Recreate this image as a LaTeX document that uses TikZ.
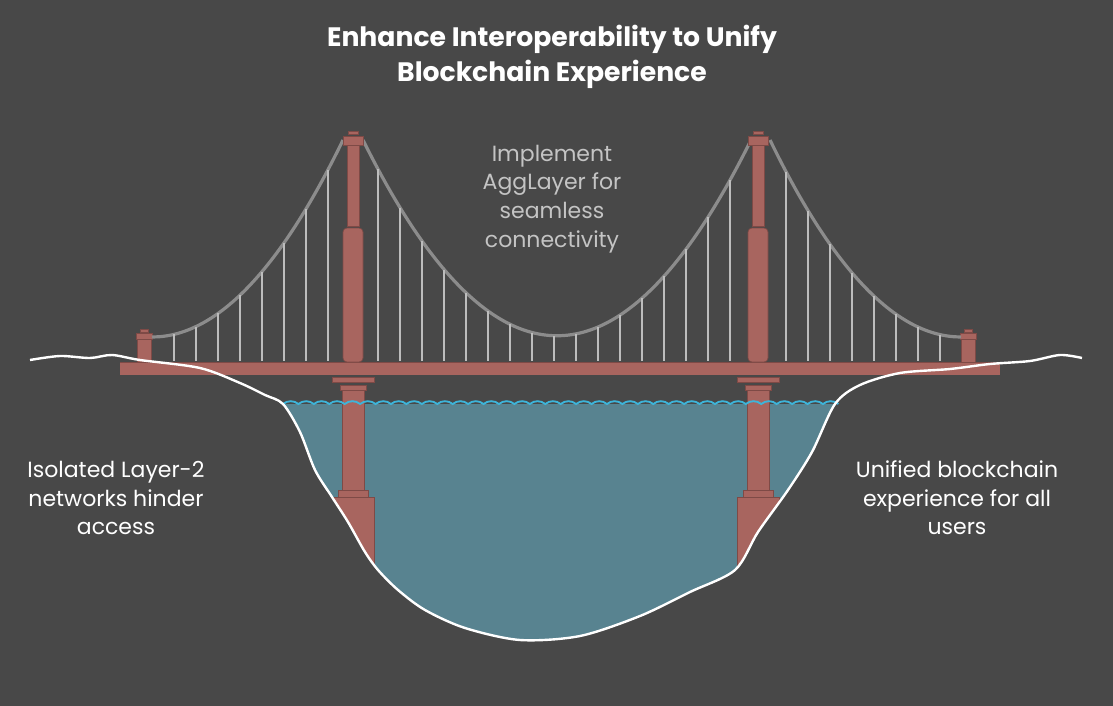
\documentclass[tikz,border=0pt]{standalone}
\usepackage{fontspec}
\setmainfont{Poppins}
\begin{document}
\begin{tikzpicture}[x=0.75pt,y=-0.75pt,
  red/.style={fill=brc,draw=brd,line width=0.5pt},
  hanger/.style={draw=hgc,line width=1.3pt},
  cable/.style={draw=cbc,line width=2.4pt},
  lbl/.style={text=white,font=\fontsize{16.5}{21.5}\selectfont,align=center}]
\definecolor{bg}{HTML}{484848}
\definecolor{brc}{HTML}{A8655F}
\definecolor{brd}{HTML}{7E4A46}
\definecolor{wat}{HTML}{588390}
\definecolor{wav}{HTML}{3DB5DA}
\definecolor{hgc}{HTML}{BDBDBD}
\definecolor{cbc}{HTML}{8C8C8C}
\definecolor{txg}{HTML}{C4C4C4}
\fill[bg] (0,0) rectangle (1113,706);
\useasboundingbox (0,0) rectangle (1113,706);
% water
\def\gorge{(283,404) (300,432) (315,470) (332,497) (348,522) (365,552) (378,570) (398,590) (425,610) (465,628) (520,640) (580,636) (640,616) (690,592) (735,570) (758,532) (788,490) (812,452) (835,404)}
\fill[wat] plot[smooth] coordinates {\gorge} -- cycle;
% deck
\fill[brc] (120,362) rectangle (1000,375);
\draw[brd,line width=0.6pt] (120,362) -- (1000,362);
% end posts
\foreach \x in {144,968}{
  \draw[red] (\x-7,339) rectangle (\x+7,362);
  \draw[red] (\x-8,333) rectangle (\x+8,339);
  \draw[red] (\x-4,329) rectangle (\x+4,332);
}
% cables
\draw[cable] (152,337) .. controls (215.7,337) and (279.3,271.3) .. (343,140);
\draw[cable] (363,140) .. controls (492.3,401) and (621.7,401) .. (751,140);
\draw[cable] (770,140) .. controls (833.7,271.3) and (897.3,337) .. (961,337);
% hangers
\foreach \x in {174,196,...,328}{
  \pgfmathsetmacro\yy{337-197*((\x-152)/191)^2}
  \draw[hanger] (\x,\yy) -- (\x,361);}
\foreach \x in {378,400,...,740}{
  \pgfmathsetmacro\yy{336-196*((\x-557)/194)^2}
  \draw[hanger] (\x,\yy) -- (\x,361);}
\foreach \x in {786,808,...,950}{
  \pgfmathsetmacro\yy{337-197*((\x-961)/191)^2}
  \draw[hanger] (\x,\yy) -- (\x,361);}
% towers
\foreach \x in {353,758}{
  \draw[red] (\x-6,145) rectangle (\x+6,226);
  \draw[red,rounded corners=3pt] (\x-10,228) rectangle (\x+10,362);
  \draw[red] (\x-10,136) rectangle (\x+10,145);
  \draw[red] (\x-5,131) rectangle (\x+5,134);
  \draw[red] (\x-21,377) rectangle (\x+21,382);
  \draw[red] (\x-13,385) rectangle (\x+13,390);
}
\begin{scope}
\clip plot[smooth] coordinates {\gorge} -- (835,390) -- (283,390) -- cycle;
\foreach \x in {353,758}{
  \draw[red] (\x-11,390) rectangle (\x+11,490);
  \draw[red] (\x-15,490) rectangle (\x+15,497);
  \draw[red] (\x-21,497) rectangle (\x+21,600);
}
\end{scope}
% waves
\draw[wav,line width=1.4pt] (283,404) \foreach \i in {1,...,36}{ arc[start angle=230,end angle=310,radius=12] };
% ground line
\draw[white,line width=1.8pt] plot[smooth] coordinates {(30,360) (60,356) (90,358) (112,355) (140,360) (200,368) (240,383) (265,395) \gorge (860,385) (900,373) (950,369) (990,364) (1030,361) (1060,355) (1082,358)};
% texts
\node[text=white,font=\bfseries\fontsize{20}{26}\selectfont,align=center] (title) at (552,57) {Enhance Interoperability to Unify\\Blockchain Experience};
\node[lbl,text=txg] (mid) at (552,199) {Implement\\AggLayer for\\seamless\\connectivity};
\node[lbl] (left) at (116,498) {Isolated Layer-2\\networks hinder\\access};
\node[lbl] (right) at (957,498) {Unified blockchain\\experience for all\\users};
\end{tikzpicture}
\end{document}
